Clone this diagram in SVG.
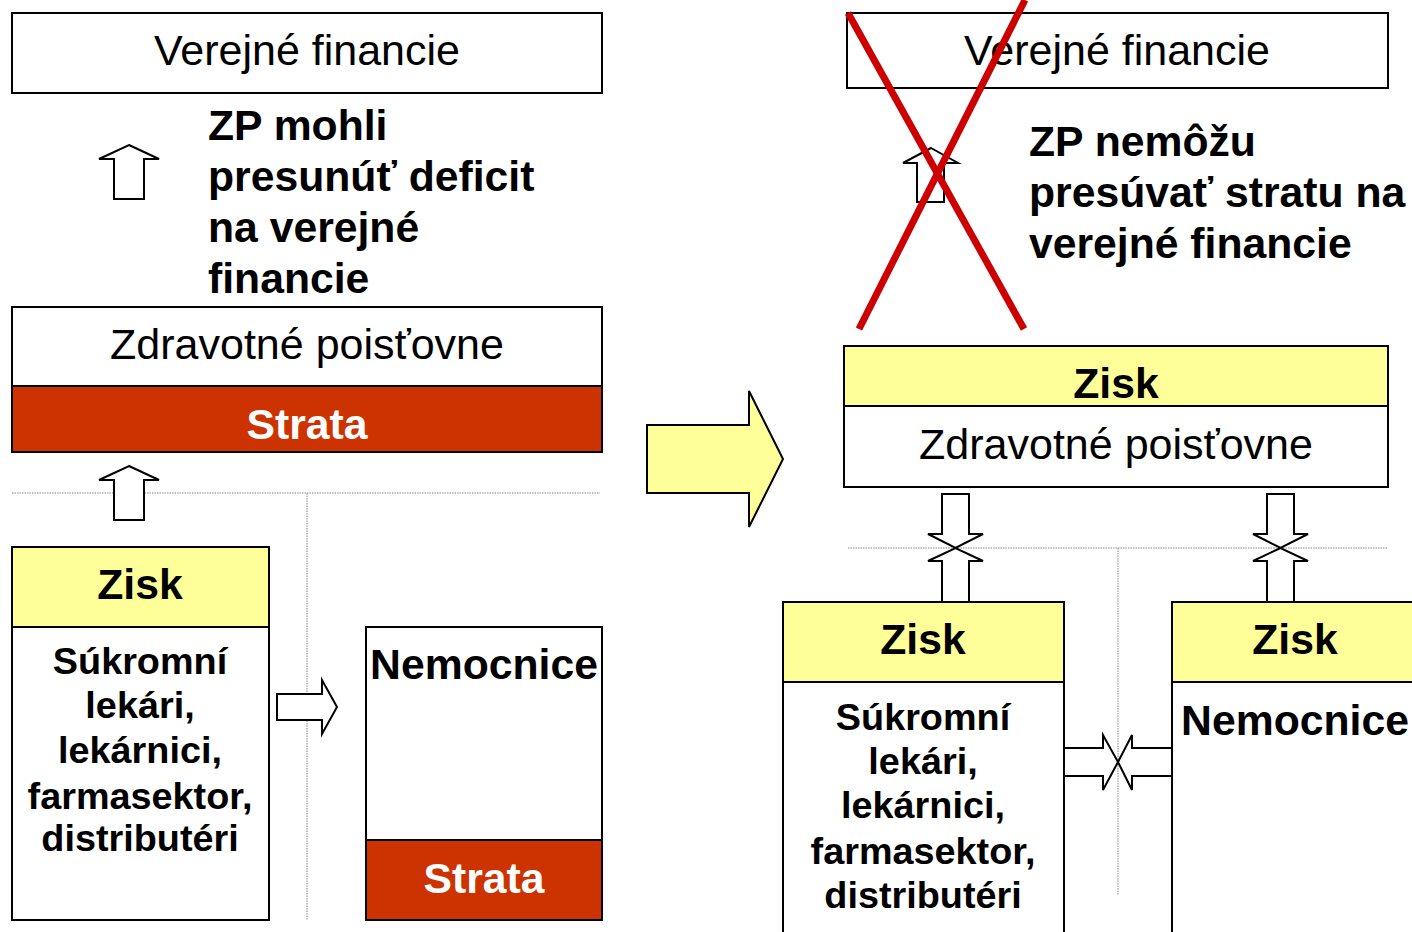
<svg xmlns="http://www.w3.org/2000/svg" width="1412" height="932" viewBox="0 0 1412 932">
<style>
.box{fill:#FFFFFF;stroke:#000;stroke-width:2}
.yel{fill:#FFFF99;stroke:#000;stroke-width:2}
.red{fill:#CC3300;stroke:#000;stroke-width:2}
.arr{fill:#FFFFFF;stroke:#000;stroke-width:2;stroke-linejoin:miter}
.dot{stroke:#888;stroke-width:1;stroke-dasharray:1.5 1;fill:none}
.t{font-family:"Liberation Sans",Arial,sans-serif;fill:#000}
.n{font-size:43px}
.b{font-size:42.7px;font-weight:bold}
.s{font-size:37.8px;font-weight:bold}
.w{fill:#FFFFFF}
.c{text-anchor:middle}
</style>
<rect width="1412" height="932" fill="#FFFFFF"/>
<g id="guides">
<line class="dot" x1="12" y1="493" x2="600" y2="493"/>
<line class="dot" x1="307" y1="493" x2="307" y2="920"/>
<line class="dot" x1="848" y1="548" x2="1388" y2="548"/>
<line class="dot" x1="1118" y1="548" x2="1118" y2="895"/>
</g>
<g id="left-vf">
<rect class="box" x="12" y="13" width="590" height="80"/>
<text class="t n c" x="307" y="65">Verejné financie</text>
</g>
<g id="left-note">
<text class="t b" x="208" y="140">ZP mohli</text>
<text class="t b" x="208" y="191">presunúť deficit</text>
<text class="t b" x="208" y="242">na verejné</text>
<text class="t b" x="208" y="293">financie</text>
</g>
<g id="left-zp">
<rect class="box" x="12" y="307" width="590" height="79"/>
<rect class="red" x="12" y="386" width="590" height="66"/>
<text class="t n c" x="307" y="359">Zdravotné poisťovne</text>
<text class="t b c w" x="307" y="439">Strata</text>
</g>
<g id="left-private">
<rect class="box" x="12" y="627" width="257" height="293"/>
<rect class="yel" x="12" y="547" width="257" height="80"/>
<text class="t b c" x="140" y="599">Zisk</text>
<text class="t s c" x="140" y="674">Súkromní</text>
<text class="t s c" x="140" y="718">lekári,</text>
<text class="t s c" x="140" y="763">lekárnici,</text>
<text class="t s c" x="140" y="809">farmasektor,</text>
<text class="t s c" x="140" y="851">distributéri</text>
</g>
<g id="left-hosp">
<rect class="box" x="366" y="627" width="236" height="213"/>
<rect class="red" x="366" y="840" width="236" height="80"/>
<text class="t b c" x="484" y="679">Nemocnice</text>
<text class="t b c w" x="484" y="893">Strata</text>
</g>
<g id="right-vf">
<rect class="box" x="847" y="13" width="541" height="75"/>
<text class="t n c" x="1117" y="65">Verejné financie</text>
</g>
<g id="right-note">
<text class="t b" x="1029" y="156">ZP nemôžu</text>
<text class="t b" x="1029" y="207">presúvať stratu na</text>
<text class="t b" x="1029" y="258">verejné financie</text>
</g>
<g id="right-zp">
<rect class="yel" x="844" y="346" width="544" height="60"/>
<rect class="box" x="844" y="406" width="544" height="81"/>
<text class="t b c" x="1116" y="398">Zisk</text>
<text class="t n c" x="1116" y="459">Zdravotné poisťovne</text>
</g>
<g id="right-private">
<rect class="box" x="783" y="682" width="281" height="260"/>
<rect class="yel" x="783" y="602" width="281" height="80"/>
<text class="t b c" x="923" y="654">Zisk</text>
<text class="t s c" x="923" y="730">Súkromní</text>
<text class="t s c" x="923" y="774">lekári,</text>
<text class="t s c" x="923" y="818">lekárnici,</text>
<text class="t s c" x="923" y="864">farmasektor,</text>
<text class="t s c" x="923" y="908">distributéri</text>
</g>
<g id="right-hosp">
<rect class="box" x="1172" y="682" width="250" height="260"/>
<rect class="yel" x="1172" y="602" width="250" height="80"/>
<text class="t b c" x="1295" y="654">Zisk</text>
<text class="t b c" x="1295" y="735">Nemocnice</text>
</g>
<g id="connectors">
<path class="arr" d="M129,145 L159,159 H144 V199 H114 V159 H99 Z"/>
<path class="arr" d="M129,466 L159,480 H144 V520 H114 V480 H99 Z"/>
<path class="arr" d="M277,694 H322 V680 L337,707 L322,734 V720 H277 Z"/>
<path d="M647,425 H749 V391 L783,459 L749,527 V493 H647 Z" fill="#FFFF99" stroke="#000" stroke-width="2"/>
<path class="arr" d="M931,148 L958,163 H944 V202 H917 V163 H903 Z"/>
<path class="arr" d="M942,494 H969 V534 H983 L955.5,548 L928,534 H942 Z"/>
<path class="arr" d="M942,602 H969 V561 H983 L955.5,548 L928,561 H942 Z"/>
<path class="arr" d="M1267,494 H1294 V534 H1308 L1280.5,548 L1253,534 H1267 Z"/>
<path class="arr" d="M1267,602 H1294 V561 H1308 L1280.5,548 L1253,561 H1267 Z"/>
<path class="arr" d="M1064,748 H1103 V735 L1118,762 L1103,790 V776 H1064 Z"/>
<path class="arr" d="M1172,748 H1132 V735 L1118,762 L1132,790 V776 H1172 Z"/>
</g>
<g id="cross">
<line x1="848" y1="13" x2="1024" y2="329" stroke="#CC0000" stroke-width="7"/>
<line x1="1025" y1="0" x2="859" y2="329" stroke="#CC0000" stroke-width="7"/>
</g>
</svg>
